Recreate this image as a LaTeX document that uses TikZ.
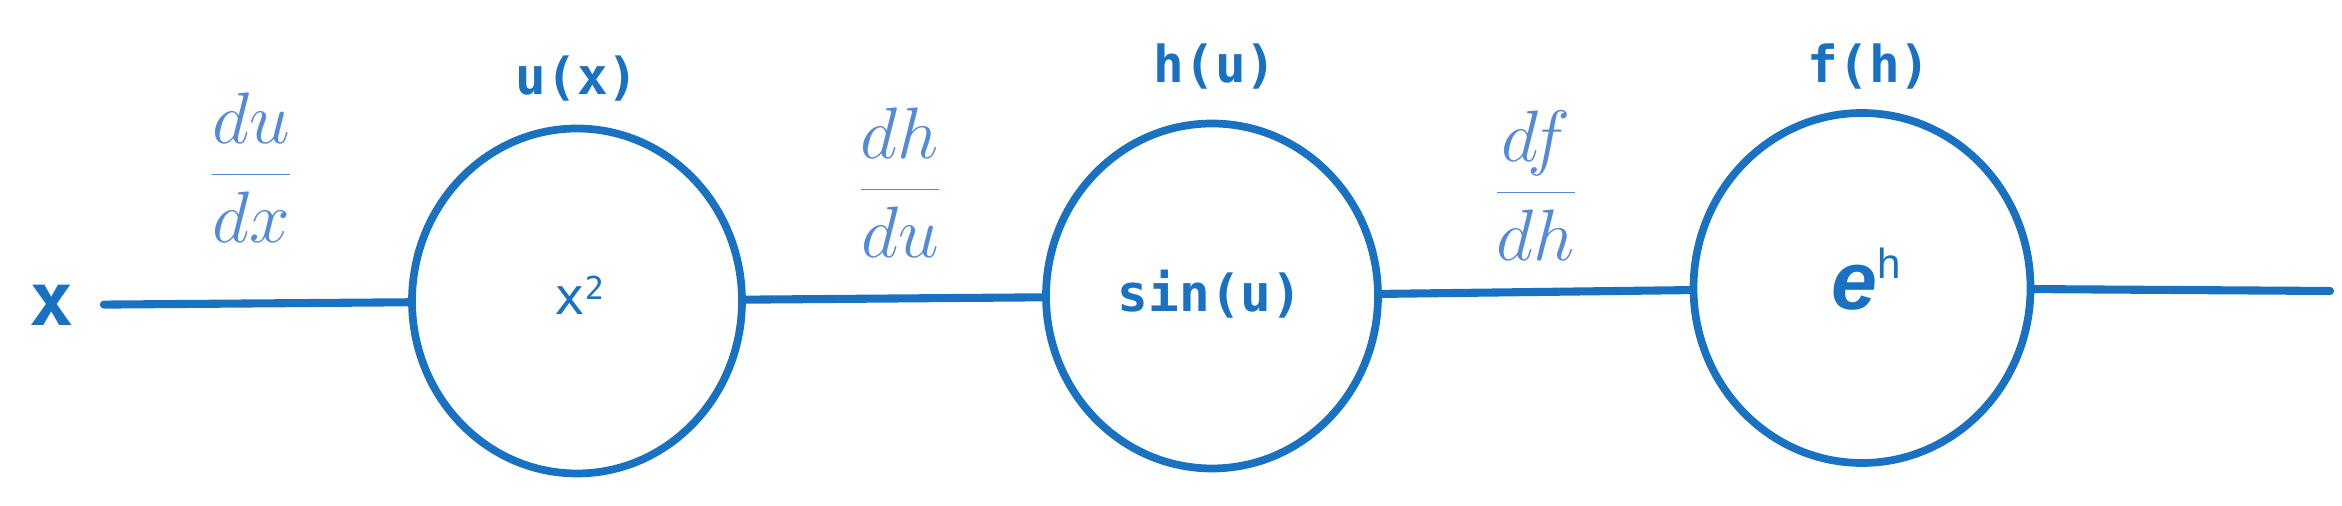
\documentclass[tikz,border=0pt]{standalone}
\usepackage{fontspec}
\usetikzlibrary{shapes.geometric}
\newfontfamily\monof{DejaVu Sans Mono}
\newfontfamily\sansf{Liberation Sans}
\definecolor{inkblue}{RGB}{25,113,194}
\definecolor{fracblue}{RGB}{84,138,218}
\begin{document}
\begin{tikzpicture}[x=0.1mm,y=-0.1mm,
  fn/.style={ellipse, draw=inkblue, line width=2.2pt, inner sep=0pt},
  wire/.style={draw=inkblue, line width=2.3pt, line cap=round},
  lbl/.style={text=inkblue, inner sep=0pt, font=\monof\bfseries\fontsize{14.5}{17}\selectfont},
  grad/.style={text=fracblue, inner sep=0pt, font=\fontsize{22}{26}\selectfont}]
\useasboundingbox (0,0) rectangle (2342,506);
% function circles
\node[fn, minimum width=33mm, minimum height=34.5mm] (c1) at (577,301) {};
\node[fn, minimum width=33.2mm, minimum height=34.5mm] (c2) at (1212,296) {};
\node[fn, minimum width=33.7mm, minimum height=35mm] (c3) at (1862,288) {};
% contents
\node[lbl, anchor=base, font=\monof\fontsize{14.5}{17}\selectfont] (t1) at (579,315) {x\raisebox{4.3pt}{\fontsize{9}{10}\selectfont 2}};
\node[lbl, anchor=base] (t2) at (1210,312) {sin(u)};
\node[lbl, anchor=base, font=\sansf\bfseries\fontsize{23.5}{26}\selectfont] (t3) at (1866,310) {\itshape e\upshape\raisebox{9pt}{\mdseries\fontsize{12}{14}\selectfont h}};
% labels above
\node[lbl, anchor=base] (l1) at (577,95) {u(x)};
\node[lbl, anchor=base] (l2) at (1215,83) {h(u)};
\node[lbl, anchor=base] (l3) at (1869,83) {f(h)};
% input
\node[lbl, font=\monof\bfseries\fontsize{21}{24}\selectfont] (xl) at (52,305) {x};
\coordinate (out) at (2330,291);
% wires
\draw[wire, shorten <=2.9mm] (xl) -- (c1);
\draw[wire] (c1) -- (c2);
\draw[wire] (c2) -- (c3);
\draw[wire] (c3) -- (out);
% gradients
\node[grad] (g1) at (251,168) {$\displaystyle\frac{du}{dx}$};
\node[grad] (g2) at (900,183) {$\displaystyle\frac{dh}{du}$};
\node[grad] (g3) at (1536,186) {$\displaystyle\frac{df}{dh}$};
\end{tikzpicture}
\end{document}
